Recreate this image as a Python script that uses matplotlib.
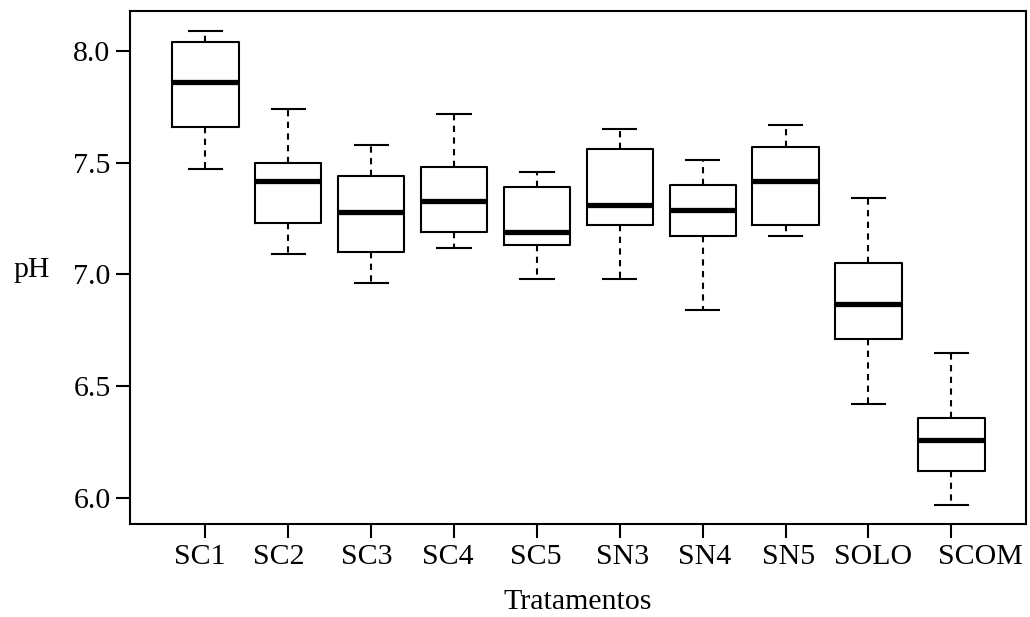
import matplotlib
matplotlib.use("Agg")
import matplotlib.pyplot as plt
import matplotlib.transforms as mtransforms

plt.rcParams['font.family'] = ['Liberation Serif', 'DejaVu Serif']

# Valores (pH por tratamiento)
tratamentos = ['SC1', 'SC2', 'SC3', 'SC4', 'SC5', 'SN3', 'SN4', 'SN5', 'SOLO', 'SCOM']
bigote_inf = [7.47, 7.09, 6.96, 7.12, 6.98, 6.98, 6.84, 7.17, 6.42, 5.97]
q1 = [7.66, 7.23, 7.10, 7.19, 7.13, 7.22, 7.17, 7.22, 6.71, 6.12]
mediana = [7.86, 7.42, 7.28, 7.33, 7.19, 7.31, 7.29, 7.42, 6.87, 6.26]
q3 = [8.04, 7.50, 7.44, 7.48, 7.39, 7.56, 7.40, 7.57, 7.05, 6.36]
bigote_sup = [8.09, 7.74, 7.58, 7.72, 7.46, 7.65, 7.51, 7.67, 7.34, 6.65]
yticks = [6.0, 6.5, 7.0, 7.5, 8.0]

# desplazamiento horizontal de las etiquetas (px), como en el original
desplaz = [-6, -10, -4, -6, -1, 3, 2, 3, 5, 29]

stats = []
for i in range(len(tratamentos)):
    stats.append({'label': tratamentos[i], 'whislo': bigote_inf[i], 'q1': q1[i],
                  'med': mediana[i], 'q3': q3[i], 'whishi': bigote_sup[i], 'fliers': []})

fig = plt.figure(figsize=(10.30, 6.17), dpi=100)
ax = fig.add_axes([0.1262, 0.1502, 0.8699, 0.832])

ax.bxp(stats, positions=range(1, 11), widths=0.8, showfliers=False,
       boxprops=dict(color='black', linewidth=1.5),
       medianprops=dict(color='black', linewidth=3.8, solid_capstyle='butt'),
       whiskerprops=dict(color='black', linewidth=1.5, linestyle=(0, (3.0, 2.6))),
       capprops=dict(color='black', linewidth=1.5), capwidths=0.4)

ax.set_xlim(0.09, 10.9)
ax.set_ylim(5.882, 8.179)
ax.set_yticks(yticks)
ax.set_yticklabels(['%.1f' % v for v in yticks])
ax.set_xticks(range(1, 11))
ax.set_xticklabels(tratamentos)

for s in ax.spines.values():
    s.set_linewidth(1.5)
ax.tick_params(axis='both', length=10, width=1.5, pad=4, labelsize=21.5)

for lab, dx in zip(ax.get_xticklabels(), desplaz):
    lab.set_transform(lab.get_transform() + mtransforms.ScaledTranslation(dx / 100, 0, fig.dpi_scale_trans))

ax.set_xlabel('Tratamentos', fontsize=21.5, labelpad=14)
ax.set_ylabel('pH', fontsize=21.5, rotation=0, va='center', ha='center')
ax.yaxis.set_label_coords(-0.110, 0.495)

fig.savefig('out.png', dpi=100)
